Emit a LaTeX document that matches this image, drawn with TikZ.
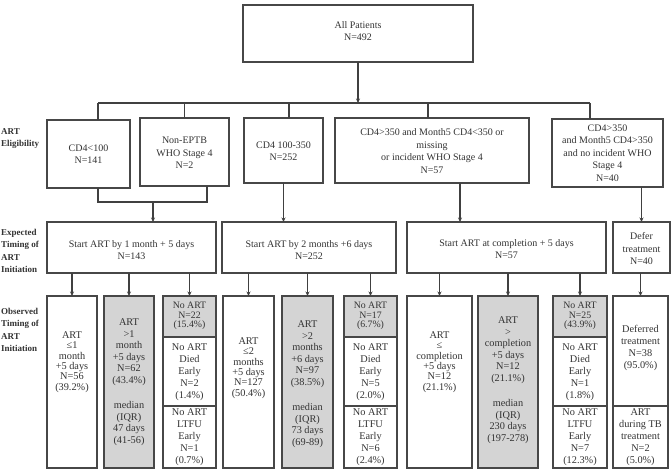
\documentclass[tikz,border=0pt]{standalone}
\usepackage{fontspec}
\setmainfont{Liberation Serif}
\usetikzlibrary{arrows.meta}
% box by its corners: [style]{name}{x1}{y1}{x2}{y2}
\newcommand\cell[6][box]{\node[#1, minimum width={#5pt-#3pt}, minimum height={#6pt-#4pt}, anchor=north west] (#2) at (#3,#4) {};}
\begin{document}
\begin{tikzpicture}[x=1pt,y=-1pt,
  box/.style={draw=black!72, line width=1.6pt, fill=white, rectangle, inner sep=0pt, outer sep=0pt},
  gbox/.style={box, fill=black!17},
  txt/.style={align=center, font=\fontsize{10}{12.5}\selectfont, text=black!80, inner sep=0pt},
  ctxt/.style={align=center, font=\fontsize{10.3}{10.3}\selectfont, text=black!80, inner sep=0pt},
  gtxt/.style={align=center, font=\fontsize{10.3}{11.5}\selectfont, text=black!80, inner sep=0pt},
  ntxt/.style={align=center, font=\fontsize{9.8}{9.6}\selectfont, text=black!80, inner sep=0pt},
  wtxt/.style={align=center, font=\fontsize{10.3}{12}\selectfont, text=black!80, inner sep=0pt},
  lab/.style={align=left, anchor=west, font=\fontsize{9}{12.3}\selectfont\bfseries, text=black!80, inner sep=0pt},
  link/.style={draw=black!75, line width=1.1pt},
  arr/.style={link, -{Stealth[length=4.5pt,width=4pt]}}
]
\useasboundingbox (0,0) rectangle (672,473);

% row labels
\node[lab] (lElig) at (1,138.5) {ART\\Eligibility};
\node[lab] (lExp) at (1,251) {Expected\\Timing of\\ART\\Initiation};
\node[lab] (lObs) at (1,330) {Observed\\Timing of\\ART\\Initiation};

% all patients
\cell{top}{243}{5}{473}{62}
\node[txt] (tTop) at (358,31) {All Patients\\N=492};

% eligibility
\cell{A}{47}{120}{130}{188}
\node[txt] (tA) at (88.5,154) {CD4<100\\N=141};
\cell{B}{140}{118}{229}{186}
\node[txt] (tB) at (184.5,153) {Non-EPTB\\WHO Stage 4\\N=2};
\cell{C}{244}{118}{323}{183}
\node[txt] (tC) at (283.5,151) {CD4 100-350\\N=252};
\cell{D}{335}{118}{529}{183}
\node[txt] (tD) at (432,151) {CD4>350 and Month5 CD4<350 or\\missing\\or incident WHO Stage 4\\N=57};
\cell{E}{552}{119}{663}{187}
\node[txt] (tE) at (607.5,153) {CD4>350\\and Month5 CD4>350\\and no incident WHO\\Stage 4\\N=40};

% expected timing
\cell{F}{47}{222}{216}{273}
\node[txt] (tF) at (131.5,250) {Start ART by 1 month + 5 days\\N=143};
\cell{G}{222}{222}{396}{273}
\node[txt] (tG) at (309,250) {Start ART by 2 months +6 days\\N=252};
\cell{H}{407}{222}{606}{273}
\node[txt] (tH) at (506.5,249) {Start ART at completion + 5 days\\N=57};
\cell{I}{613}{222}{670}{273}
\node[txt] (tI) at (641.5,249) {Defer\\treatment\\N=40};

% observed timing, first group
\cell{c1}{47}{296}{97}{468}
\node[ctxt] (t1) at (72,362) {ART\\≤1\\month\\+5 days\\N=56\\(39.2\%)};
\cell[gbox]{c2}{104}{296}{154}{468}
\node[gtxt] (t2) at (129,382) {ART\\>1\\month\\+5 days\\N=62\\(43.4\%)\\[14pt]median\\(IQR)\\47 days\\(41-56)};
\cell[gbox]{c3}{163}{296}{216}{337}
\node[ntxt] (t3) at (189.5,316) {No ART\\N=22\\(15.4\%)};
\cell{c3d}{163}{337}{216}{406}
\node[wtxt] (t3d) at (189.5,372) {No ART\\Died\\Early\\N=2\\(1.4\%)};
\cell{c3l}{163}{406}{216}{468}
\node[wtxt] (t3l) at (189.5,437) {No ART\\LTFU\\Early\\N=1\\(0.7\%)};

% second group
\cell{c4}{223}{296}{274}{468}
\node[ctxt] (t4) at (248.5,368) {ART\\≤2\\months\\+5 days\\N=127\\(50.4\%)};
\cell[gbox]{c5}{282}{296}{333}{468}
\node[gtxt] (t5) at (307.5,384) {ART\\>2\\months\\+6 days\\N=97\\(38.5\%)\\[14pt]median\\(IQR)\\73 days\\(69-89)};
\cell[gbox]{c6}{344}{296}{397}{337}
\node[ntxt] (t6) at (370.5,316) {No ART\\N=17\\(6.7\%)};
\cell{c6d}{344}{337}{397}{406}
\node[wtxt] (t6d) at (370.5,372) {No ART\\Died\\Early\\N=5\\(2.0\%)};
\cell{c6l}{344}{406}{397}{468}
\node[wtxt] (t6l) at (370.5,437) {No ART\\LTFU\\Early\\N=6\\(2.4\%)};

% third group
\cell{c7}{407}{296}{472}{468}
\node[ctxt] (t7) at (439.5,362) {ART\\≤\\completion\\+5 days\\N=12\\(21.1\%)};
\cell[gbox]{c8}{478}{296}{538}{468}
\node[gtxt] (t8) at (508,380) {ART\\>\\completion\\+5 days\\N=12\\(21.1\%)\\[14pt]median\\(IQR)\\230 days\\(197-278)};
\cell[gbox]{c9}{553}{296}{607}{337}
\node[ntxt] (t9) at (580,316) {No ART\\N=25\\(43.9\%)};
\cell{c9d}{553}{337}{607}{406}
\node[wtxt] (t9d) at (580,372) {No ART\\Died\\Early\\N=1\\(1.8\%)};
\cell{c9l}{553}{406}{607}{468}
\node[wtxt] (t9l) at (580,437) {No ART\\LTFU\\Early\\N=7\\(12.3\%)};

% deferred group
\cell{c10}{613}{296}{668}{406}
\node[wtxt] (t10) at (640.5,348) {Deferred\\treatment\\N=38\\(95.0\%)};
\cell{c10b}{613}{406}{668}{468}
\node[wtxt] (t10b) at (640.5,437) {ART\\during TB\\treatment\\N=2\\(5.0\%)};

% split of all patients by eligibility
\coordinate (busL) at (98,103);
\coordinate (busR) at (590,103);
\coordinate (dC) at (289,103);
\coordinate (dD) at (428,103);
\draw[link] (busL) -- (busR);
\draw[arr] (top.south) -- (top.south |- busL);
\draw[link] (busL) -- (busL |- A.north);
\draw[link] (B.north |- busL) -- (B.north);
\draw[link] (dC) -- (dC |- C.north);
\draw[link] (dD) -- (dD |- D.north);
\draw[link] (busR) -- (busR |- E.north);

% eligibility to expected timing
\coordinate (mL) at (98,202);
\coordinate (mR) at (207,202);
\coordinate (mA) at (153,202);
\coordinate (dH) at (460,183);
\draw[link] (mL |- A.south) -- (mL) -- (mR) -- (mR |- B.south);
\draw[arr] (mA) -- (mA |- F.north);
\draw[arr] (C.south) -- (C.south |- G.north);
\draw[arr] (dH) -- (dH |- H.north);
\draw[arr] (I.north |- E.south) -- (I.north);

% expected to observed timing
\foreach \c in {c1,c2,c3} \draw[arr] (F.south -| \c.north) -- (\c.north);
\foreach \c in {c4,c5,c6} \draw[arr] (G.south -| \c.north) -- (\c.north);
\foreach \c in {c7,c8,c9} \draw[arr] (H.south -| \c.north) -- (\c.north);
\draw[arr] (I.south -| c10.north) -- (c10.north);
\end{tikzpicture}
\end{document}
